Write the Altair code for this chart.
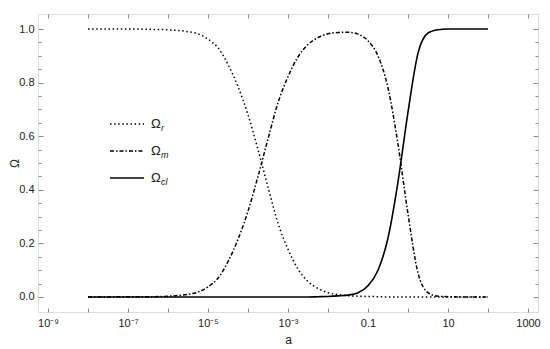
import altair as alt
import pandas as pd

# ---- data (x given as log10(a)) ----
log_a = [-8, -7.5, -7, -6.5, -6, -5.5, -5.25, -5, -4.75, -4.5, -4.25, -4, -3.75,
         -3.5, -3.25, -3, -2.75, -2.5, -2.25, -2, -1.75, -1.5, -1.25, -1, -0.75,
         -0.5, -0.25, 0, 0.25, 0.5, 0.75, 1, 1.5, 2]
omega_r = [1.0, 1.0, 1.0, 0.999, 0.997, 0.99, 0.982, 0.962, 0.93, 0.868, 0.785, 0.68, 0.55,
           0.41, 0.275, 0.178, 0.104, 0.058, 0.032, 0.016, 0.009, 0.005, 0.003, 0.002, 0.001,
           0.0, 0.0, 0.0, 0.0, 0.0, 0.0, 0.0, 0.0, 0.0]
omega_m = [0.0, 0.0, 0.001, 0.001, 0.003, 0.01, 0.018, 0.038, 0.07, 0.132, 0.215, 0.32, 0.45,
           0.59, 0.725, 0.822, 0.896, 0.942, 0.968, 0.982, 0.987, 0.988, 0.981, 0.956, 0.9,
           0.78, 0.57, 0.31, 0.09, 0.016, 0.003, 0.001, 0.0, 0.0]
omega_l = [0.0, 0.0, 0.0, 0.0, 0.0, 0.0, 0.0, 0.0, 0.0, 0.0, 0.0, 0.0, 0.0,
           0.0, 0.0, 0.0, 0.0, 0.0, 0.001, 0.002, 0.004, 0.007, 0.016, 0.042, 0.1,
           0.22, 0.43, 0.69, 0.91, 0.985, 0.997, 1.0, 1.0, 1.0]

x_label_values = [1e-9, 1e-7, 1e-5, 1e-3, 0.1, 10, 1000]
x_tick_values = [1e-9, 1e-8, 1e-7, 1e-6, 1e-5, 1e-4, 1e-3, 1e-2, 0.1, 1, 10, 100, 1000]
y_major_values = [0.0, 0.2, 0.4, 0.6, 0.8, 1.0]
y_minor_values = [0.05, 0.1, 0.15, 0.25, 0.3, 0.35, 0.45, 0.5, 0.55, 0.65, 0.7, 0.75,
                  0.85, 0.9, 0.95]

df = pd.DataFrame({
    "a": [10.0 ** e for e in log_a],
    "r": omega_r,
    "m": omega_m,
    "l": omega_l,
})
one = pd.DataFrame({"k": [0]})

W, H = 500, 298
FONT = "Liberation Sans"
FRAME = "#8a8a8a"
INK = "#222222"

xscale = alt.Scale(type="log", domain=[10 ** -9.25, 10 ** 3.25], nice=False)
yscale = alt.Scale(domain=[-0.056, 1.056], nice=False, zero=False)

label_expr = ("round(log(datum.value)/LN10) == -9 ? '10⁻⁹' : "
              "round(log(datum.value)/LN10) == -7 ? '10⁻⁷' : "
              "round(log(datum.value)/LN10) == -5 ? '10⁻⁵' : "
              "round(log(datum.value)/LN10) == -3 ? '10⁻³' : "
              "round(log(datum.value)/LN10) == -1 ? '0.1' : "
              "round(log(datum.value)/LN10) == 1 ? '10' : '1000'")

x_labels = alt.Axis(orient="bottom", values=x_label_values, ticks=False, domain=False,
                    grid=False, labelExpr=label_expr, labelFont=FONT, labelFontSize=11,
                    labelColor=INK, labelPadding=5, labelFlush=False, labelOverlap=False,
                    title="a", titleFont=FONT, titleFontSize=12, titleFontWeight="normal",
                    titleColor=INK, titlePadding=6)
x_ticks_bottom = alt.Axis(orient="top", offset=-H, values=x_tick_values, labels=False,
                          domain=False, grid=False, tickSize=4, tickColor=FRAME)
x_ticks_top = alt.Axis(orient="bottom", offset=-H, values=x_tick_values, labels=False,
                       domain=False, grid=False, tickSize=4, tickColor=FRAME)

y_labels = alt.Axis(orient="left", values=y_major_values, ticks=False, domain=False,
                    grid=False, format=".1f", labelFont=FONT, labelFontSize=11,
                    labelColor=INK, labelPadding=4, labelFlush=False, labelOverlap=False,
                    title="Ω", titleFont=FONT, titleFontSize=12, titleFontWeight="normal",
                    titleColor=INK, titleAngle=270, titleX=-24, titleY=149,
                    titleAlign="center", titleBaseline="middle")
y_major_left = alt.Axis(orient="right", offset=-W, values=y_major_values, labels=False,
                        domain=False, grid=False, tickSize=5, tickColor=FRAME)
y_major_right = alt.Axis(orient="left", offset=-W, values=y_major_values, labels=False,
                         domain=False, grid=False, tickSize=5, tickColor=FRAME)
y_minor_left = alt.Axis(orient="right", offset=-W, values=y_minor_values, labels=False,
                        domain=False, grid=False, tickSize=3, tickColor=FRAME)
y_minor_right = alt.Axis(orient="left", offset=-W, values=y_minor_values, labels=False,
                         domain=False, grid=False, tickSize=3, tickColor=FRAME)

base = alt.Chart(df)

line_r = base.mark_line(color="black", strokeWidth=1.5, strokeDash=[1.5, 2.6],
                        strokeCap="butt", interpolate="monotone", clip=True).encode(
    x=alt.X("a:Q", scale=xscale, axis=x_labels),
    y=alt.Y("r:Q", scale=yscale, axis=y_labels),
)
line_m = base.mark_line(color="black", strokeWidth=1.5, strokeDash=[4, 2, 1.5, 2],
                        strokeCap="butt", interpolate="monotone", clip=True).encode(
    x=alt.X("a:Q", scale=xscale, axis=x_ticks_bottom, title=None),
    y=alt.Y("m:Q", scale=yscale, axis=y_major_left, title=None),
)
line_l = base.mark_line(color="black", strokeWidth=1.6, interpolate="monotone",
                        clip=True).encode(
    x=alt.X("a:Q", scale=xscale, axis=x_ticks_top, title=None),
    y=alt.Y("l:Q", scale=yscale, axis=y_major_right, title=None),
)
ghost1 = base.mark_line(opacity=0).encode(
    x=alt.X("a:Q", scale=xscale, axis=None),
    y=alt.Y("r:Q", scale=yscale, axis=y_minor_left, title=None),
)
ghost2 = base.mark_line(opacity=0).encode(
    x=alt.X("a:Q", scale=xscale, axis=None),
    y=alt.Y("r:Q", scale=yscale, axis=y_minor_right, title=None),
)

# ---- hand-made legend (positions are layout, in pixels of the plot area) ----
leg = alt.Chart(one)
LX0, LX1, TX = 72, 106, 113
rows = [(110, [1.5, 2.6], "r"), (137, [4, 2, 1.5, 2], "m"), (164, None, "cl")]
legend_layers = []
for yy, dash, sub in rows:
    kw = dict(color="black", strokeWidth=1.6 if dash is None else 1.5, strokeCap="butt")
    if dash is not None:
        kw["strokeDash"] = dash
    legend_layers.append(leg.mark_rule(**kw).encode(
        x=alt.value(LX0), x2=alt.value(LX1), y=alt.value(yy)))
    legend_layers.append(leg.mark_text(text="Ω", font=FONT, fontSize=13, color=INK,
                                       align="left", baseline="middle").encode(
        x=alt.value(TX), y=alt.value(yy)))
    legend_layers.append(leg.mark_text(text=sub, font=FONT, fontSize=9, fontStyle="italic",
                                       color=INK, align="left", baseline="middle").encode(
        x=alt.value(TX + 10), y=alt.value(yy + 4)))

chart = alt.layer(line_r, line_m, line_l, ghost1, ghost2, *legend_layers).resolve_axis(
    x="independent", y="independent"
).properties(
    width=W, height=H,
    autosize=alt.AutoSizeParams(type="none"),
    padding={"left": 30, "top": 6, "right": 4, "bottom": 37},
).configure_view(stroke=FRAME, strokeWidth=1).configure(background="white")

chart.save("out.html", embed_options={"renderer": "svg", "actions": False})
